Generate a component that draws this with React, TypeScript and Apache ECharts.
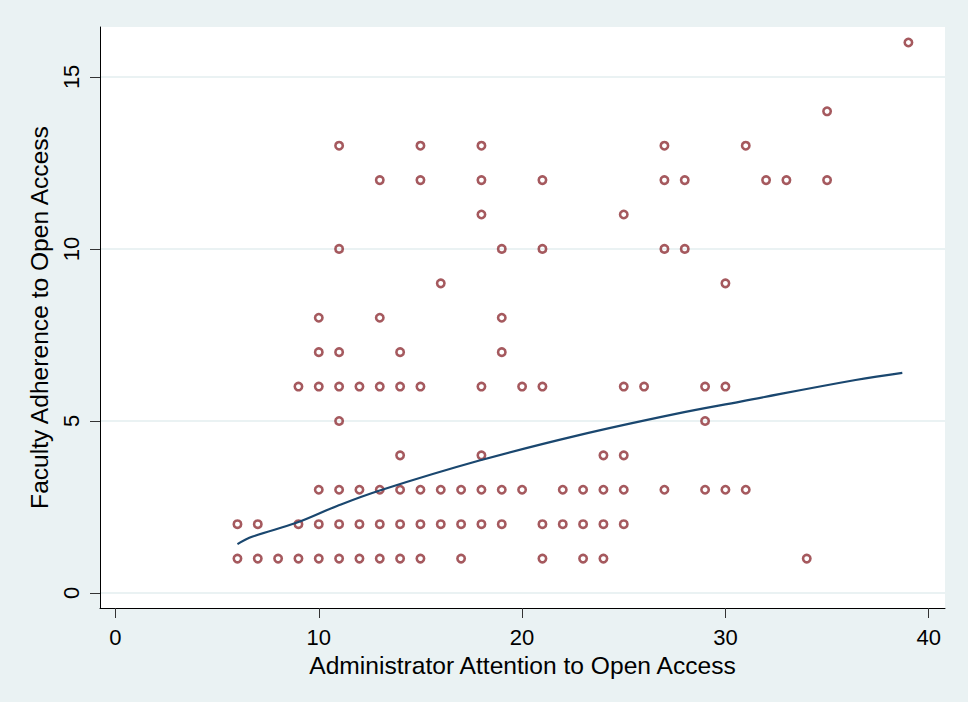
import React, { useEffect, useRef } from "react";
import * as echarts from "echarts";

// Administrator attention (x) and faculty adherence (y) observations
const adminAttention = [
  6, 7, 8, 9, 10, 11, 12, 13, 14, 15, 17, 21, 23, 24, 34,
  6, 7, 9, 10, 11, 12, 13, 14, 15, 16, 17, 18, 19, 21, 22, 23, 24, 25,
  10, 11, 12, 13, 14, 15, 16, 17, 18, 19, 20, 22, 23, 24, 25, 27, 29, 30, 31,
  14, 18, 24, 25,
  11, 29,
  9, 10, 11, 12, 13, 14, 15, 18, 20, 21, 25, 26, 29, 30,
  10, 11, 14, 19,
  10, 13, 19,
  16, 30,
  11, 19, 21, 27, 28,
  18, 25,
  13, 15, 18, 21, 27, 28, 32, 33, 35,
  11, 15, 18, 27, 31,
  35,
  39,
];
const facultyAdherence = [
  1, 1, 1, 1, 1, 1, 1, 1, 1, 1, 1, 1, 1, 1, 1,
  2, 2, 2, 2, 2, 2, 2, 2, 2, 2, 2, 2, 2, 2, 2, 2, 2, 2,
  3, 3, 3, 3, 3, 3, 3, 3, 3, 3, 3, 3, 3, 3, 3, 3, 3, 3, 3,
  4, 4, 4, 4,
  5, 5,
  6, 6, 6, 6, 6, 6, 6, 6, 6, 6, 6, 6, 6, 6,
  7, 7, 7, 7,
  8, 8, 8,
  9, 9,
  10, 10, 10, 10, 10,
  11, 11,
  12, 12, 12, 12, 12, 12, 12, 12, 12,
  13, 13, 13, 13, 13,
  14,
  16,
];

// Fitted curve
const fitX = [6, 6.75, 8.9, 10.9, 13, 17.9, 22.8, 27.5, 30.8, 36.4, 38.7];
const fitY = [1.42, 1.64, 2.04, 2.53, 2.98, 3.85, 4.59, 5.2, 5.57, 6.19, 6.4];

const xTicks = [0, 10, 20, 30, 40];
const yTicks = [0, 5, 10, 15];

const FONT = "'Liberation Sans', Arial, Helvetica, sans-serif";

export default function App() {
  const ref = useRef<HTMLDivElement>(null);
  useEffect(() => {
    document.body.style.margin = "0";
    if (!ref.current) return;
    const chart = echarts.init(ref.current, null, { renderer: "svg" });
    const points = adminAttention.map((x, i) => [x, facultyAdherence[i]]);
    const fit = fitX.map((x, i) => [x, fitY[i]]);
    chart.setOption({
      animation: false,
      backgroundColor: "#EAF2F3",
      textStyle: { fontFamily: FONT },
      grid: {
        left: 100,
        top: 27,
        width: 845,
        height: 581,
        show: true,
        backgroundColor: "#ffffff",
        borderWidth: 0,
      },
      xAxis: {
        type: "value",
        min: -0.76,
        max: 40.8,
        name: "Administrator Attention to Open Access",
        nameLocation: "middle",
        nameGap: 37,
        nameTextStyle: { fontSize: 24.6, color: "#000", fontFamily: FONT },
        axisLine: { show: true, onZero: false, lineStyle: { color: "#000", width: 1 } },
        axisTick: { show: true, length: 10, customValues: xTicks, lineStyle: { color: "#333", width: 1 } },
        axisLabel: { customValues: xTicks, fontSize: 22, color: "#000", margin: 18, fontFamily: FONT },
        splitLine: { show: false },
      },
      yAxis: {
        type: "value",
        min: -0.436,
        max: 16.45,
        name: "Faculty Adherence to Open Access",
        nameLocation: "middle",
        nameGap: 37,
        nameRotate: 90,
        nameTextStyle: { fontSize: 24.6, color: "#000", fontFamily: FONT },
        axisLine: { show: true, onZero: false, lineStyle: { color: "#000", width: 1 } },
        axisTick: { show: true, length: 10, customValues: yTicks, lineStyle: { color: "#333", width: 1 } },
        axisLabel: { customValues: yTicks, fontSize: 22, color: "#000", margin: 18, rotate: 90, fontFamily: FONT },
        splitLine: { show: true, lineStyle: { color: "#EAF2F3", width: 2 } },
      },
      series: [
        {
          type: "scatter",
          data: points,
          symbol: "circle",
          symbolSize: 7.4,
          itemStyle: { color: "rgba(255,255,255,0)", borderColor: "#8E2F36", borderWidth: 2.6 },
          z: 2,
        },
        {
          type: "line",
          data: fit,
          smooth: 0.4,
          showSymbol: false,
          symbol: "none",
          lineStyle: { color: "#1A476F", width: 2.2 },
          z: 3,
        },
      ],
    });
    return () => chart.dispose();
  }, []);
  return (
    <div style={{ width: 971, height: 706, background: "#ffffff", position: "relative" }}>
      <div ref={ref} style={{ position: "absolute", left: 0, top: 0, width: 968, height: 702 }} />
    </div>
  );
}
